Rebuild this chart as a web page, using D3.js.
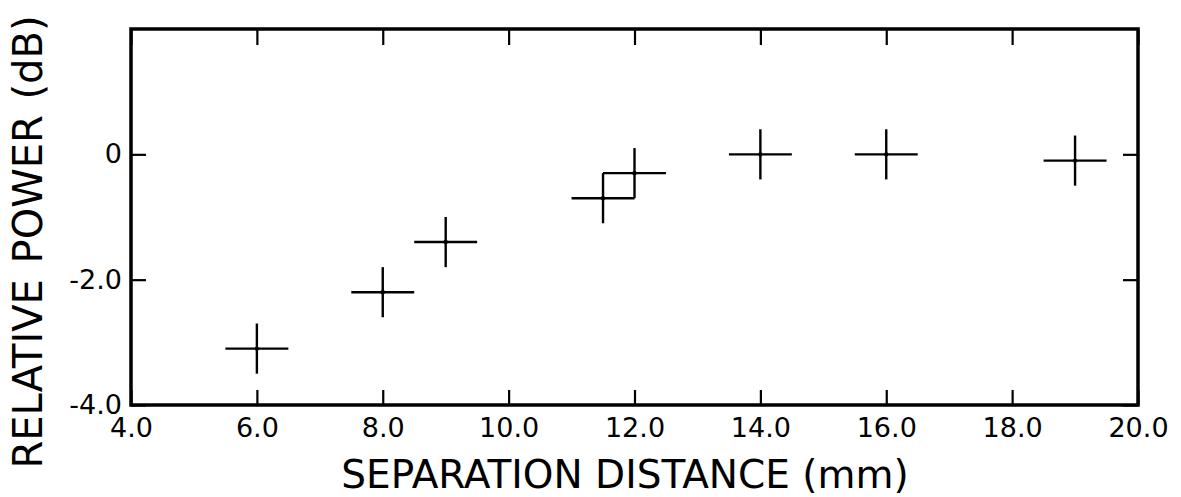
<!DOCTYPE html>
<html>
<head>
<meta charset="utf-8">
<script src="https://cdn.jsdelivr.net/npm/d3@7"></script>
<style>
  body { margin: 0; background: #fff; }
  text { font-family: "DejaVu Sans", sans-serif; fill: #000; }
</style>
</head>
<body>
<div id="chart"></div>
<script>
// separation distance (mm) and relative power (dB)
var distances = [6.0, 8.0, 9.0, 11.5, 12.0, 14.0, 16.0, 19.0];
var powers = [-3.1, -2.2, -1.4, -0.7, -0.3, 0.0, 0.0, -0.1];
var xErr = 0.5;   // mm, half width of the cross
var yErr = 0.4;   // dB, half height of the cross

var xTicks = [4, 6, 8, 10, 12, 14, 16, 18, 20];
var yTicks = [-4, -2, 0];
var xTitle = 'SEPARATION DISTANCE (mm)';
var yTitle = 'RELATIVE POWER (dB)';

var W = 1181, H = 497;
var m = { left: 131, top: 29, right: 1138, bottom: 405 };

var svg = d3.select('#chart').append('svg')
  .attr('width', W)
  .attr('height', H);

var x = d3.scaleLinear().domain([4, 20]).range([m.left, m.right]);
var y = d3.scaleLinear().domain([-4, 2]).range([m.bottom, m.top]);

var pts = distances.map(function (d, i) { return { x: d, y: powers[i] }; });

// axes, ticks point inwards
var fmtX = function (d) { return d3.format('.1f')(d); };
var fmtY = function (d) { return d === 0 ? '0' : d3.format('.1f')(d).replace('\u2212', '-'); };

var gx = svg.append('g')
  .attr('transform', 'translate(0,' + m.bottom + ')')
  .call(d3.axisBottom(x).tickValues(xTicks).tickFormat(fmtX)
    .tickSizeInner(-15).tickSizeOuter(0).tickPadding(13));

var gxTop = svg.append('g')
  .attr('transform', 'translate(0,' + m.top + ')')
  .call(d3.axisTop(x).tickValues(xTicks).tickFormat('')
    .tickSizeInner(-16).tickSizeOuter(0));

var gy = svg.append('g')
  .attr('transform', 'translate(' + m.left + ',0)')
  .call(d3.axisLeft(y).tickValues(yTicks).tickFormat(fmtY)
    .tickSizeInner(-15).tickSizeOuter(0).tickPadding(9));

var gyRight = svg.append('g')
  .attr('transform', 'translate(' + m.right + ',0)')
  .call(d3.axisRight(y).tickValues(yTicks).tickFormat('')
    .tickSizeInner(-15).tickSizeOuter(0));

svg.selectAll('.domain').remove();
svg.selectAll('.tick line').attr('stroke', '#000').attr('stroke-width', 2.2);
gx.selectAll('text').attr('font-size', 27).attr('font-family', '"DejaVu Sans", sans-serif');
gy.selectAll('text').attr('font-size', 27).attr('font-family', '"DejaVu Sans", sans-serif');

// frame
svg.append('rect')
  .attr('x', m.left)
  .attr('y', m.top)
  .attr('width', m.right - m.left)
  .attr('height', m.bottom - m.top)
  .attr('fill', 'none')
  .attr('stroke', '#000')
  .attr('stroke-width', 3.5);

// error crosses
var marks = svg.append('g');
marks.selectAll('line.h').data(pts)
  .enter().append('line')
  .attr('class', 'h')
  .attr('x1', function (d) { return x(d.x - xErr); })
  .attr('x2', function (d) { return x(d.x + xErr); })
  .attr('y1', function (d) { return y(d.y); })
  .attr('y2', function (d) { return y(d.y); })
  .attr('stroke', '#000')
  .attr('stroke-width', 2.4);

marks.selectAll('line.v').data(pts)
  .enter().append('line')
  .attr('class', 'v')
  .attr('x1', function (d) { return x(d.x); })
  .attr('x2', function (d) { return x(d.x); })
  .attr('y1', function (d) { return y(d.y - yErr); })
  .attr('y2', function (d) { return y(d.y + yErr); })
  .attr('stroke', '#000')
  .attr('stroke-width', 2.4);

marks.selectAll('circle').data(pts)
  .enter().append('circle')
  .attr('cx', function (d) { return x(d.x); })
  .attr('cy', function (d) { return y(d.y); })
  .attr('r', 2.2)
  .attr('fill', '#000');

// titles
svg.append('text')
  .attr('x', 625)
  .attr('y', 488)
  .attr('text-anchor', 'middle')
  .attr('font-size', 39)
  .text(xTitle);

svg.append('text')
  .attr('transform', 'translate(42,242) rotate(-90)')
  .attr('text-anchor', 'middle')
  .attr('font-size', 40)
  .attr('word-spacing', 3)
  .text(yTitle);
</script>
</body>
</html>
